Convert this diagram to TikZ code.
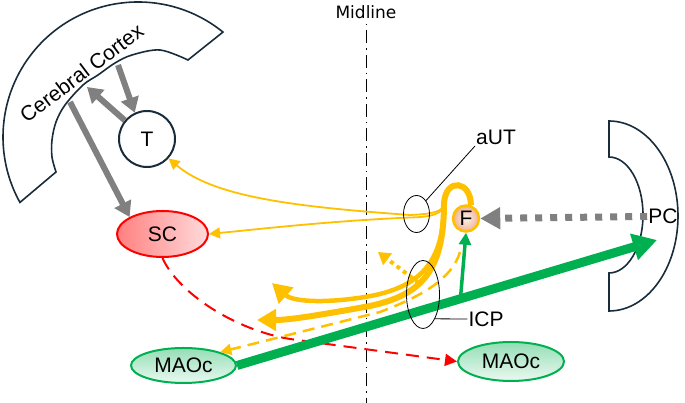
\documentclass[tikz,border=0pt]{standalone}
\usepackage{fontspec}
\setmainfont{Liberation Sans}
\newfontfamily\midfont{DejaVu Sans}
\usetikzlibrary{arrows.meta,shapes.geometric,calc}

\definecolor{outline}{RGB}{24,44,60}
\definecolor{fibre}{RGB}{255,192,0}
\definecolor{maogreen}{RGB}{0,176,80}
\definecolor{tractgray}{RGB}{128,128,128}

\tikzset{
  region/.style={draw=outline,line width=1.6pt},
  lbl/.style={font=\fontsize{21}{25}\selectfont,inner sep=1pt},
  tract/.style={draw=tractgray,line width=6pt,-{Triangle[length=15pt,width=18pt]}},
  fibrethin/.style={draw=fibre,line width=1.8pt,-{Triangle[length=11pt,width=11pt]}},
  fibrethick/.style={draw=fibre,line width=#1,-{Triangle[length=19pt,width=21pt]}},
  bundle/.style={draw,ellipse,line width=0.8pt,inner sep=0pt},
  maobox/.style={lbl,ellipse,draw=maogreen,line width=2pt,top color=maogreen!42,bottom color=maogreen!8},
}

\begin{document}
\begin{tikzpicture}[x=1pt,y=1pt]
\useasboundingbox (0,0) rectangle (685,403);

\node[font=\midfont\fontsize{17}{20}\selectfont,inner sep=1pt] (midlbl) at (366,391) {Midline};
\coordinate (midbot) at (366,0);
\draw[line width=0.8pt,dash pattern=on 1.5pt off 5pt on 13pt off 5pt,shorten <=4pt] (midlbl.south) -- (midbot);

\coordinate (ctx) at (138,266);
\draw[region] (ctx) ++(51:135) arc[start angle=51,end angle=209,radius=135]
  -- plot[smooth,tension=0.55] coordinates {(56,231) (52,246) (52,263) (56,281) (65,298)
     (83,318) (98,328) (115,340) (132,348) (160,353) (188,343)} -- cycle;
\node[lbl,rotate=37] (ctxlbl) at (81.5,330) {Cerebral Cortex};

\draw[region] (609,282) arc[start angle=90,end angle=-90,x radius=69,y radius=95]
  -- (609,130) arc[start angle=-90,end angle=90,x radius=34,y radius=58] -- cycle;
\node[lbl] (pclbl) at (663,186.5) {PC};

\node[lbl,circle,draw=outline,line width=2pt,minimum size=56pt] (T) at (147,264) {T};
\node[lbl,ellipse,draw=red,line width=2pt,left color=red!50,right color=red!14,
      minimum width=91pt,minimum height=46pt] (SC) at (162.5,169) {SC};
\node[maobox,minimum width=105pt,minimum height=35pt] (maocL) at (183.5,37.5) {MAOc};
\node[maobox,minimum width=106pt,minimum height=39pt] (maocR) at (511,41.5) {MAOc};
\node[lbl,circle,draw=fibre,line width=2.5pt,inner color={rgb,255:red,253;green,242;blue,235},
      outer color={rgb,255:red,240;green,178;blue,150},minimum size=26pt,inner sep=0pt] (F) at (466,184.5) {F};

% cortex, thalamus, colliculus
\coordinate (ctxT) at (118,338);
\coordinate (Tctx) at (87,316);
\coordinate (ctxSC) at (70,301);
\draw[tract] (ctxT) -- (T.115);
\draw[tract] (T.140) -- (Tctx);
\draw[tract] (ctxSC) -- (SC.north west);
\draw[draw=tractgray,line width=7pt,dash pattern=on 7pt off 8pt,-{Triangle[length=20pt,width=21pt]}]
  (pclbl.west) -- (F.east);

% fibres from F
\draw[fibrethin] (F.70) .. controls (471,222) and (446,226) .. (444,200)
  .. controls (444,191) and (432,189) .. (410,188)
  .. controls (300,196) and (215,205) .. (T.-42);
\draw[fibrethin] (F.70) .. controls (471,222) and (446,226) .. (444,200)
  .. controls (444,189) and (432,186) .. (410,185.5)
  .. controls (330,182) and (260,174) .. (SC.east);
\coordinate (uptip) at (272,120);
\coordinate (lowtip) at (257,83);
\draw[fibrethick=4.5pt] (F.70) .. controls (471,222) and (446,226) .. (444,200)
  .. controls (444,140) and (420,115) .. (365,106)
  .. controls (320,99) and (292,102) .. (uptip);
\draw[fibrethick=6pt] (F.70) .. controls (471,222) and (446,226) .. (444,200)
  .. controls (444,130) and (420,108) .. (370,97)
  .. controls (320,88) and (290,83) .. (lowtip);
\coordinate (dotst) at (419,120);
\coordinate (dottip) at (378,151);
\draw[draw=fibre,line width=4pt,dash pattern=on 4pt off 4pt,-{Triangle[length=12pt,width=14pt]}]
  (dotst) -- (dottip);
\coordinate (dashst) at (460,151);
\draw[draw=fibre,line width=2.5pt,dash pattern=on 12pt off 7pt,-{Triangle[length=11pt,width=11pt]}]
  (dashst) .. controls (452,125) and (425,108) .. (380,91) -- (maocL.20);

% MAOc projections
\draw[draw=red,line width=2pt,dash pattern=on 13pt off 8pt,-{Triangle[length=12pt,width=12pt]}]
  (SC.south) .. controls (178,110) and (235,73) .. (290,64) -- (maocR.west);
\coordinate (pcin) at (657,163);
\draw[draw=maogreen,line width=9pt,-{Triangle[length=24pt,width=26pt]}] (maocL.east) -- (pcin);
\coordinate (gbr) at ($(maocL.east)!0.532!(pcin)$);
\draw[draw=maogreen,line width=3.5pt,-{Triangle[length=12pt,width=12pt]}] (gbr) -- (F.south);

% bundles
\node[bundle,minimum width=26pt,minimum height=37pt] (aUT) at (416.5,189) {};
\node[lbl] (autlbl) at (496,265.5) {aUT};
\draw[line width=0.8pt] (aUT.north east) -- (autlbl.south west);
\node[bundle,minimum width=33pt,minimum height=68pt] (ICP) at (423,108.5) {};
\node[lbl] (icplbl) at (486,84) {ICP};
\draw[line width=0.8pt] (ICP.south east) -- (icplbl.west);
\end{tikzpicture}
\end{document}
